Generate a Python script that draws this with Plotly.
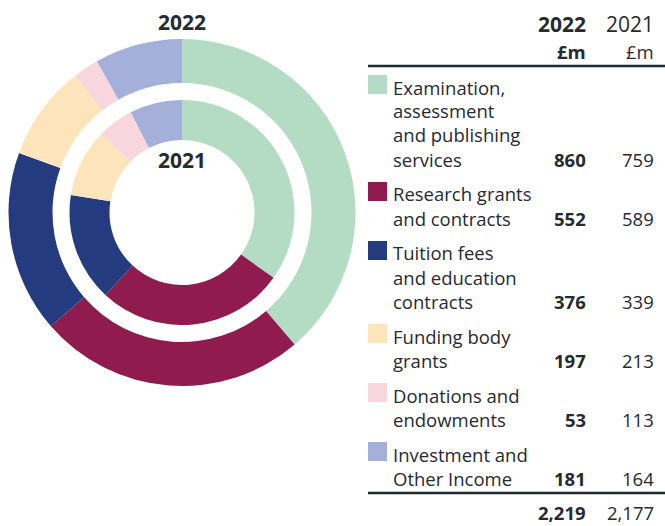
import plotly.graph_objects as go

# ---- data ----
categories = [
    "Examination, assessment and publishing services",
    "Research grants and contracts",
    "Tuition fees and education contracts",
    "Funding body grants",
    "Donations and endowments",
    "Investment and Other Income",
]
label_lines = [
    ["Examination,", "assessment", "and publishing", "services"],
    ["Research grants", "and contracts"],
    ["Tuition fees", "and education", "contracts"],
    ["Funding body", "grants"],
    ["Donations and", "endowments"],
    ["Investment and", "Other Income"],
]
values_2022 = [860, 552, 376, 197, 53, 181]
values_2021 = [759, 589, 339, 213, 113, 164]
total_2022 = "2,219"
total_2021 = "2,177"
year_labels = ["2022", "2021"]
unit_label = "£m"
colors = ["#b4dcc4", "#8f1b4f", "#243b7f", "#fee4ba", "#f8d6de", "#a4b0da"]

W, H = 665, 526
TXT = "#262a31"
FONT = "Open Sans"
FS = 18.5
FS_YEAR = 21


def px(x):
    return x / W


def py(y):
    return 1 - y / H


fig = go.Figure()

# outer ring (2022)
cx, cy = 182, 212.5
r_out, r_out_in = 173.5, 129.5
fig.add_trace(go.Pie(
    values=values_2022, labels=categories, sort=False, direction="clockwise",
    rotation=0, hole=r_out_in / r_out, textinfo="none",
    marker=dict(colors=colors, line=dict(width=0)),
    domain=dict(x=[px(cx - r_out), px(cx + r_out)], y=[py(cy + r_out), py(cy - r_out)]),
    showlegend=False, name=year_labels[0],
))
# inner ring (2021)
r_in, r_in_in = 112.5, 72.5
fig.add_trace(go.Pie(
    values=values_2021, labels=categories, sort=False, direction="clockwise",
    rotation=0, hole=r_in_in / r_in, textinfo="none",
    marker=dict(colors=colors, line=dict(width=0)),
    domain=dict(x=[px(cx - r_in), px(cx + r_in)], y=[py(cy + r_in), py(cy - r_in)]),
    showlegend=False, name=year_labels[1],
))

ann = []
shapes = []


def text(x, y, s, xanchor="left", bold=False, size=FS):
    ann.append(dict(
        x=px(x), y=py(y), xref="paper", yref="paper", text=f"<b>{s}</b>" if bold else s,
        showarrow=False, xanchor=xanchor, yanchor="middle",
        font=dict(family=FONT, size=size, color=TXT),
    ))


# ring titles
text(cx, 22, year_labels[0], xanchor="center", bold=True, size=FS_YEAR)
text(cx, 160, year_labels[1], xanchor="center", bold=True, size=FS_YEAR)

# table header
col22, col21 = 588, 656
text(col22, 24, year_labels[0], xanchor="right", bold=True, size=FS_YEAR)
text(col21, 24, year_labels[1], xanchor="right", size=FS_YEAR)
text(col22, 52, unit_label, xanchor="right", bold=True)
text(col21, 52, unit_label, xanchor="right")

line_col = "#1d2833"
for yl in (66, 493):
    shapes.append(dict(type="line", xref="paper", yref="paper",
                       x0=px(368), x1=px(665), y0=py(yl), y1=py(yl),
                       line=dict(color=line_col, width=2.5)))

# rows
y = 87
step, gap = 24, 35
for lines, v22, v21, c in zip(label_lines, values_2022, values_2021, colors):
    shapes.append(dict(type="rect", xref="paper", yref="paper",
                       x0=px(368), x1=px(387), y0=py(y - 12), y1=py(y + 7),
                       fillcolor=c, line=dict(width=0)))
    for i, ln in enumerate(lines):
        text(391, y + i * step, ln)
    last = y + (len(lines) - 1) * step
    text(col22, last, f"{v22:,}", xanchor="right", bold=True)
    text(col21, last, f"{v21:,}", xanchor="right")
    y = last + gap

text(col22, 512, total_2022, xanchor="right", bold=True)
text(col21, 512, total_2021, xanchor="right")

fig.update_layout(
    width=W, height=H, margin=dict(l=0, r=0, t=0, b=0),
    paper_bgcolor="white", plot_bgcolor="white",
    annotations=ann, shapes=shapes, showlegend=False,
)

fig.write_html(
    "out.html",
    config={"displayModeBar": False},
    post_script="document.body.style.margin='0';document.body.style.overflow='hidden';",
)
